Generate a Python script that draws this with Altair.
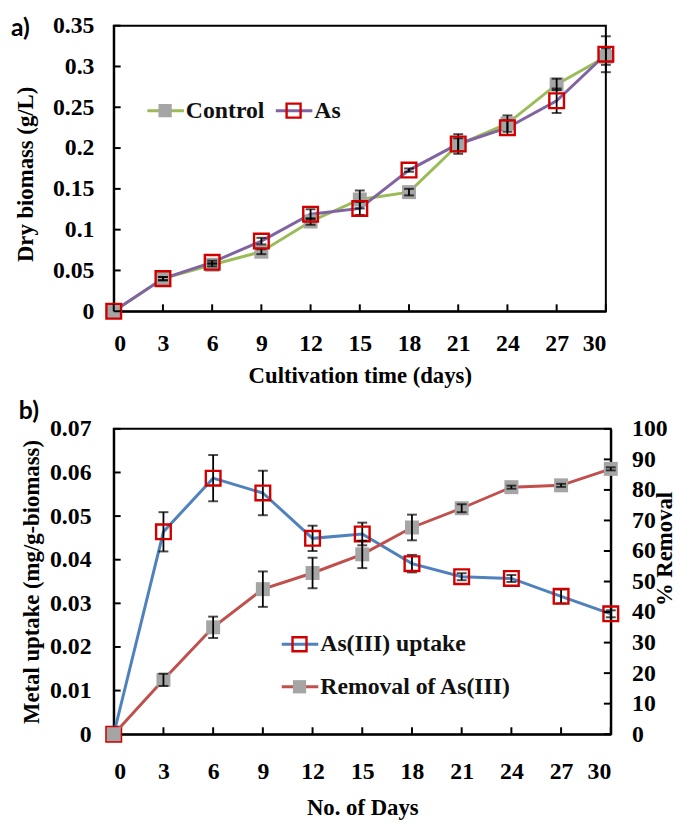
import altair as alt
import pandas as pd

# ---------------- data ----------------
days = [0, 3, 6, 9, 12, 15, 18, 21, 24, 27, 30]

control_biomass = [0, 0.040, 0.057, 0.073, 0.110, 0.137, 0.146, 0.204, 0.230, 0.278, 0.312]
control_err = [0, 0.002, 0.002, 0.003, 0.004, 0.011, 0.004, 0.008, 0.010, 0.007, 0.010]
as_biomass = [0, 0.040, 0.060, 0.086, 0.119, 0.126, 0.173, 0.205, 0.225, 0.258, 0.315]
as_err = [0, 0.002, 0.002, 0.004, 0.006, 0.008, 0.002, 0.012, 0.009, 0.015, 0.022]

uptake = [0, 0.0464, 0.0587, 0.0553, 0.0449, 0.0459, 0.0391, 0.0361, 0.0357, 0.0316, 0.0276]
uptake_err = [0, 0.0045, 0.0053, 0.0051, 0.0029, 0.0026, 0.0020, 0.0008, 0.0008, 0.0016, 0.0008]
removal = [0, 17.8, 35.0, 47.5, 52.8, 58.9, 67.7, 74.0, 80.9, 81.5, 86.9]
removal_err = [0, 2.0, 3.5, 5.8, 5.0, 4.5, 4.2, 1.3, 0.5, 0.5, 0.5]

a_y_ticks = [0, 0.05, 0.1, 0.15, 0.2, 0.25, 0.3, 0.35]
b_left_ticks = [0, 0.01, 0.02, 0.03, 0.04, 0.05, 0.06, 0.07]
b_right_ticks = [0, 10, 20, 30, 40, 50, 60, 70, 80, 90, 100]

series_names = ["Control", "As"]

FONT = "Liberation Serif"
FS = 24
TFS = 23
WA, HA = 498, 289
WB, HB = 503, 309
TICK = 7

GREEN = "#9BBB59"
PURPLE = "#8064A2"
BLUE = "#4F81BD"
RED_LINE = "#C0504D"
RED_MK = "#D00000"
GRAY = "#A5A5A5"

# ---------------- panel a ----------------
dfa = pd.DataFrame({
    "day": days * 2,
    "series": [series_names[0]] * len(days) + [series_names[1]] * len(days),
    "value": control_biomass + as_biomass,
    "err": control_err + as_err,
})
dfa["lo"] = dfa["value"] - dfa["err"]
dfa["hi"] = dfa["value"] + dfa["err"]

xscale = alt.Scale(domain=[0, 30], nice=False, zero=False)
xaxis_a = alt.Axis(values=days, title="Cultivation time (days)", labelPadding=21,
                   titlePadding=9, ticks=False)
XA = alt.X("day:Q", scale=xscale, axis=xaxis_a)
yscale_a = alt.Scale(domain=[0, 0.35], nice=False)
yaxis_a = alt.Axis(values=a_y_ticks, format=".2~f", title="Dry biomass (g/L)",
                   labelPadding=20, titlePadding=15, ticks=False, titleY=150)
YA = alt.Y("value:Q", scale=yscale_a, axis=yaxis_a)

base_a = alt.Chart(dfa)
lines_a = base_a.mark_line(strokeWidth=3).encode(
    x=XA, y=YA,
    color=alt.Color("series:N", scale=alt.Scale(domain=series_names, range=[GREEN, PURPLE]), legend=None),
)
ctrl_pts = base_a.transform_filter(alt.datum.series == "Control").mark_point(
    shape="square", filled=True, size=200, color=GRAY, opacity=1).encode(x=XA, y=YA)
err_a = base_a.transform_filter(alt.datum.err > 0)
err_rule_a = err_a.mark_rule(color="black", strokeWidth=1.8).encode(
    x=XA, y=alt.Y("lo:Q", scale=yscale_a, axis=yaxis_a), y2="hi:Q")
err_cap_hi_a = err_a.mark_tick(orient="horizontal", size=10, thickness=2, color="black").encode(
    x=XA, y=alt.Y("hi:Q", scale=yscale_a, axis=yaxis_a))
err_cap_lo_a = err_a.mark_tick(orient="horizontal", size=10, thickness=2, color="black").encode(
    x=XA, y=alt.Y("lo:Q", scale=yscale_a, axis=yaxis_a))
as_pts = base_a.transform_filter(alt.datum.series == "As").mark_point(
    shape="square", filled=False, size=220, stroke=RED_MK, strokeWidth=2.4, opacity=1).encode(x=XA, y=YA)

xt_a = alt.Chart(pd.DataFrame({"day": days})).mark_rule(color="black", strokeWidth=2).encode(
    x=XA, y=alt.value(HA), y2=alt.value(HA - TICK))
yt_a = alt.Chart(pd.DataFrame({"value": a_y_ticks})).mark_rule(color="black", strokeWidth=2).encode(
    y=YA, x=alt.value(0), x2=alt.value(TICK))


def legend_entry(x0, y, line_color, filled, marker_color, label):
    d = alt.Chart(pd.DataFrame({"label": [label]}))
    ln = d.mark_rule(color=line_color, strokeWidth=3).encode(
        x=alt.value(x0), x2=alt.value(x0 + 37), y=alt.value(y))
    if filled:
        mk = d.mark_point(shape="square", filled=True, size=180, color=marker_color, opacity=1)
    else:
        mk = d.mark_point(shape="square", filled=False, size=200, stroke=marker_color,
                          strokeWidth=2.4, opacity=1)
    mk = mk.encode(x=alt.value(x0 + 18), y=alt.value(y))
    tx = d.mark_text(align="left", baseline="middle", font=FONT, fontSize=FS,
                     fontWeight="bold", color="#111").encode(
        x=alt.value(x0 + 39), y=alt.value(y), text="label:N")
    return [ln, mk, tx]


label_a = alt.Chart(pd.DataFrame({"t": ["a)"]})).mark_text(
    align="left", baseline="middle", font="Lato", fontSize=25, fontWeight="bold", color="black"
).encode(x=alt.value(-104), y=alt.value(2), text="t:N")

panel_a = alt.layer(
    lines_a, ctrl_pts, err_rule_a, err_cap_hi_a, err_cap_lo_a, as_pts, xt_a, yt_a,
    *legend_entry(34, 86, GREEN, True, GRAY, "Control"),
    *legend_entry(164, 86, PURPLE, False, RED_MK, "As"),
    label_a,
).properties(width=WA, height=HA)

# ---------------- panel b ----------------
dfb = pd.DataFrame({"day": days, "uptake": uptake, "uerr": uptake_err,
                    "removal": removal, "rerr": removal_err})
dfb["ulo"] = dfb["uptake"] - dfb["uerr"]
dfb["uhi"] = dfb["uptake"] + dfb["uerr"]
dfb["rlo"] = dfb["removal"] - dfb["rerr"]
dfb["rhi"] = dfb["removal"] + dfb["rerr"]

xaxis_b = alt.Axis(values=days, title="No. of Days", labelPadding=26, titlePadding=13, ticks=False)
XB = alt.X("day:Q", scale=xscale, axis=xaxis_b)
yscale_l = alt.Scale(domain=[0, 0.07], nice=False)
yaxis_l = alt.Axis(values=b_left_ticks, format=".2~f", title="Metal uptake (mg/g-biomass)",
                   labelPadding=23, titlePadding=6, ticks=False)
yscale_r = alt.Scale(domain=[0, 100], nice=False)
yaxis_r = alt.Axis(values=b_right_ticks, orient="right", title="% Removal", labelPadding=21,
                   titlePadding=9, ticks=False, titleAngle=270, titleY=121)
YL = alt.Y("uptake:Q", scale=yscale_l, axis=yaxis_l)
YR = alt.Y("removal:Q", scale=yscale_r, axis=yaxis_r)

base_b = alt.Chart(dfb)
err_u = base_b.transform_filter(alt.datum.uerr > 0)
err_r = base_b.transform_filter(alt.datum.rerr > 0)

left_group = alt.layer(
    base_b.mark_line(strokeWidth=3, color=BLUE).encode(x=XB, y=YL),
    err_u.mark_rule(color="black", strokeWidth=1.8).encode(
        x=XB, y=alt.Y("ulo:Q", scale=yscale_l, axis=yaxis_l), y2="uhi:Q"),
    err_u.mark_tick(orient="horizontal", size=10, thickness=2, color="black").encode(
        x=XB, y=alt.Y("uhi:Q", scale=yscale_l, axis=yaxis_l)),
    err_u.mark_tick(orient="horizontal", size=10, thickness=2, color="black").encode(
        x=XB, y=alt.Y("ulo:Q", scale=yscale_l, axis=yaxis_l)),
    base_b.mark_point(shape="square", filled=False, size=220, stroke=RED_MK, strokeWidth=2.4,
                      opacity=1).encode(x=XB, y=YL),
    alt.Chart(pd.DataFrame({"uptake": b_left_ticks})).mark_rule(color="black", strokeWidth=2).encode(
        y=YL, x=alt.value(0), x2=alt.value(TICK)),
    alt.Chart(pd.DataFrame({"day": days})).mark_rule(color="black", strokeWidth=2).encode(
        x=XB, y=alt.value(HB), y2=alt.value(HB - TICK)),
)

right_group = alt.layer(
    base_b.mark_line(strokeWidth=3, color=RED_LINE).encode(x=XB, y=YR),
    base_b.mark_point(shape="square", filled=True, size=200, color=GRAY, opacity=1).encode(x=XB, y=YR),
    err_r.mark_rule(color="black", strokeWidth=1.8).encode(
        x=XB, y=alt.Y("rlo:Q", scale=yscale_r, axis=yaxis_r), y2="rhi:Q"),
    err_r.mark_tick(orient="horizontal", size=10, thickness=2, color="black").encode(
        x=XB, y=alt.Y("rhi:Q", scale=yscale_r, axis=yaxis_r)),
    err_r.mark_tick(orient="horizontal", size=10, thickness=2, color="black").encode(
        x=XB, y=alt.Y("rlo:Q", scale=yscale_r, axis=yaxis_r)),
    alt.Chart(pd.DataFrame({"removal": b_right_ticks})).mark_rule(color="black", strokeWidth=2).encode(
        y=YR, x=alt.value(WB), x2=alt.value(WB - TICK)),
)

label_b = alt.Chart(pd.DataFrame({"t": ["b)"]})).mark_text(
    align="left", baseline="middle", font="Lato", fontSize=25, fontWeight="bold", color="black"
).encode(x=alt.value(-96), y=alt.value(-18), text="t:N")

legend_b = alt.layer(
    *legend_entry(170, 218, BLUE, False, RED_MK, "As(III)  uptake"),
    *legend_entry(170, 261, RED_LINE, True, GRAY, "Removal of As(III)"),
    label_b,
)

panel_b = alt.layer(left_group, right_group, legend_b).resolve_scale(y="independent").properties(
    width=WB, height=HB)

chart = alt.concat(panel_a, panel_b, columns=1, spacing=10, align="none").properties(
    padding={"left": 2, "top": 0, "right": 0, "bottom": 0}
).configure_view(stroke="black", strokeWidth=2).configure_axis(
    domainColor="black", domainWidth=2, grid=False,
    labelFont=FONT, labelFontSize=FS, labelFontWeight="bold", labelColor="black",
    titleFont=FONT, titleFontSize=TFS, titleFontWeight="bold", titleColor="black",
)

chart.save("out.html", embed_options={"renderer": "svg", "actions": False})
